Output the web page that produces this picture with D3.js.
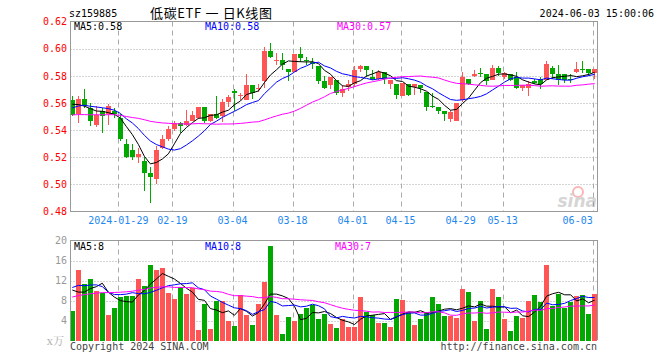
<!DOCTYPE html>
<html><head><meta charset="utf-8">
<script src="https://cdn.jsdelivr.net/npm/d3@7"></script>
<style>body{margin:0;background:#fff}svg{display:block}</style>
</head><body><svg id="c" width="660" height="360"></svg>
<script>
const dates = [
"2024-01-17","2024-01-18","2024-01-19","2024-01-22","2024-01-23","2024-01-24","2024-01-25","2024-01-26","2024-01-29","2024-01-30","2024-01-31",
"2024-02-01","2024-02-02","2024-02-05","2024-02-06","2024-02-07","2024-02-08","2024-02-19","2024-02-20","2024-02-21","2024-02-22","2024-02-23","2024-02-26","2024-02-27","2024-02-28","2024-02-29",
"2024-03-01","2024-03-04","2024-03-05","2024-03-06","2024-03-07","2024-03-08","2024-03-11","2024-03-12","2024-03-13","2024-03-14","2024-03-15","2024-03-18","2024-03-19","2024-03-20","2024-03-21","2024-03-22","2024-03-25","2024-03-26","2024-03-27","2024-03-28","2024-03-29",
"2024-04-01","2024-04-02","2024-04-03","2024-04-08","2024-04-09","2024-04-10","2024-04-11","2024-04-12","2024-04-15","2024-04-16","2024-04-17","2024-04-18","2024-04-19","2024-04-22","2024-04-23","2024-04-24","2024-04-25","2024-04-26","2024-04-29","2024-04-30",
"2024-05-06","2024-05-07","2024-05-08","2024-05-09","2024-05-10","2024-05-13","2024-05-14","2024-05-15","2024-05-16","2024-05-17","2024-05-20","2024-05-21","2024-05-22","2024-05-23","2024-05-24","2024-05-27","2024-05-28","2024-05-29","2024-05-30","2024-05-31",
"2024-06-03"];
const open = [.562,.552,.563,.556,.544,.554,.552,.554,.549,.530, .525,.520,.517,.508,.504,.527,.533,.541,.545,.544, .547,.549,.557,.547,.552,.550,.561,.569,.565,.562, .573,.570,.576,.598,.591,.592,.585,.583,.596,.592, .590,.587,.576,.573,.577,.567,.572,.574,.585,.587, .579,.578,.583,.574,.574,.565,.574,.572,.573,.568, .558,.557,.554,.548,.547,.562,.578,.580,.582,.581, .577,.586,.579,.581,.579,.571,.571,.576,.578,.577, .586,.581,.581,.578,.583,.585,.585,.582];
const high = [.565,.565,.570,.560,.558,.556,.559,.556,.552,.533, .530,.527,.520,.513,.528,.536,.543,.547,.546,.555, .554,.557,.557,.552,.565,.563,.566,.570,.567,.581, .573,.574,.601,.604,.597,.597,.585,.596,.601,.594, .593,.587,.580,.579,.577,.573,.577,.587,.588,.587, .584,.584,.583,.577,.574,.575,.574,.574,.573,.568, .567,.557,.554,.555,.560,.583,.578,.584,.586,.581, .588,.587,.583,.581,.583,.573,.576,.578,.579,.591, .587,.588,.581,.581,.590,.591,.585,.585];
const low = [.550,.545,.556,.543,.542,.538,.544,.549,.532,.519, .518,.516,.495,.486,.500,.526,.532,.539,.538,.543, .547,.548,.545,.546,.548,.546,.557,.554,.562,.562, .563,.568,.571,.593,.588,.584,.576,.583,.590,.588, .585,.574,.570,.570,.566,.564,.569,.572,.583,.579, .577,.577,.574,.570,.563,.565,.565,.566,.567,.554, .556,.552,.547,.546,.547,.561,.573,.579,.579,.573, .577,.580,.578,.576,.570,.569,.565,.574,.570,.577, .578,.573,.575,.575,.582,.582,.580,.578];
const close = [.551,.563,.558,.547,.551,.550,.558,.552,.533,.520, .520,.522,.508,.505,.525,.533,.541,.545,.543,.547, .551,.557,.547,.552,.549,.561,.564,.567,.566,.573, .567,.571,.598,.594,.592,.588,.583,.596,.593,.591, .589,.576,.571,.579,.567,.570,.574,.584,.587,.584, .578,.583,.578,.577,.566,.575,.566,.574,.571,.557, .557,.554,.552,.553,.560,.579,.574,.581,.581,.576, .586,.582,.582,.577,.571,.573,.574,.575,.574,.589, .581,.577,.577,.577,.585,.584,.582,.585];
const volume = [6.0,14.2,11.4,12.3,9.9,9.5,5.2,6.6,8.7,8.9, 9.0,12.3,11.0,15.1,14.1,14.5,9.5,8.3,10.7,9.3, 10.6,2.2,7.4,2.4,7.9,7.9,4.0,3.0,9.1,5.2, 3.2,7.4,11.7,18.9,5.2,1.4,4.8,4.0,5.4,6.6, 7.2,4.4,5.4,3.4,2.6,4.4,2.8,2.8,8.7,5.8, 5.2,3.6,3.6,2.8,8.3,8.1,5.8,3.2,4.4,5.8, 8.7,7.4,5.0,5.0,4.6,10.3,9.7,4.0,7.9,2.4, 10.3,8.7,4.4,2.0,5.0,4.6,7.9,9.1,7.7,15.1, 7.0,9.3,6.6,7.7,8.9,9.1,5.4,9.3];
// 29 sessions before the window (estimated), needed for the moving averages
const prevClose = [.556,.558,.552,.549,.551,.556,.553,.547,.545,.543,.540,.538,.541,.545,.548,.550,.552,.549,.547,.551,.549,.552,.555,.556,.556,.564,.564,.556,.560];
const prevVolume = [6,5.5,7,6,6.5,5,6,7,6.5,5.5,6,7,6,10,11.5,9.5,12,10.5,11,10.5,10,12,11,9.5,13,16.3,11.4,8.8,8.0];
const priceTicks = [0.62,0.60,0.58,0.56,0.54,0.52,0.50,0.48];
const priceGrid = [0.60,0.58,0.56,0.54,0.52,0.50];
const volumeTicks = [20,16,12,8,4];
const volumeGrid = [16,12,8,4];
const tickDates = ["2024-01-29","2024-02-19","2024-03-04","2024-03-18","2024-04-01","2024-04-15","2024-04-29","2024-05-13","2024-06-03"];
const tickLabels = ["2024-01-29","02-19","03-04","03-18","04-01","04-15","04-29","05-13","06-03"];
const maPeriods = [5,10,30];
const maColors = ["#000000","#0000ff","#ff00ff"];

const MONO = "'DejaVu Sans Mono','Liberation Mono',monospace";
const RED = "#ff5555", GREEN = "#00a800", BORDER = "#999";
const L = 70.5, R = 597.5, T1 = 21.5, B1 = 211.5, T2 = 240.5, B2 = 340.5;

const svg = d3.select("#c");
const x = d3.scaleBand().domain(dates).range([69.3, 597.7]).padding(0);
const cx = d => x(d) + x.bandwidth() / 2;
const y = d3.scaleLinear().domain([0.48, 0.62]).range([211.3, 21.6]);
const yv = d3.scaleLinear().domain([0, 20]).range([340.5, 240.5]);
const gx = d => Math.round(x(d) + 1.1) + 0.5;

function movingAvg(prev, vals, n) {
  const full = prev.concat(vals), off = prev.length;
  return vals.map((_, i) => d3.mean(full.slice(i + off - n + 1, i + off + 1)));
}
const up = i => close[i] >= open[i];

// ---------- grids ----------
function grid(top, bottom, yScale, vals) {
  const g = svg.append("g");
  g.selectAll(".h").data(vals).join("line")
    .attr("x1", L).attr("x2", R)
    .attr("y1", d => Math.round(yScale(d)) + 0.5).attr("y2", d => Math.round(yScale(d)) + 0.5)
    .attr("stroke", "#aaa").attr("stroke-dasharray", "1,2");
  g.selectAll(".v").data(tickDates).join("line")
    .attr("x1", gx).attr("x2", gx).attr("y1", top).attr("y2", bottom)
    .attr("stroke", "#aaa").attr("stroke-width", 1).attr("stroke-dasharray", "5,4");
}
grid(T1, B1, y, priceGrid);
grid(T2, B2, yv, volumeGrid);

// ---------- candles ----------
const cg = svg.append("g").attr("shape-rendering", "crispEdges");
const idx = d3.range(dates.length);
cg.selectAll(".wick").data(idx).join("line")
  .attr("x1", i => Math.floor(cx(dates[i])) + 0.5).attr("x2", i => Math.floor(cx(dates[i])) + 0.5)
  .attr("y1", i => y(high[i])).attr("y2", i => y(low[i]))
  .attr("stroke", i => up(i) ? RED : GREEN);
cg.selectAll(".body").data(idx).join("rect")
  .attr("x", i => Math.floor(cx(dates[i])) - 2)
  .attr("width", 5)
  .attr("y", i => y(Math.max(open[i], close[i])))
  .attr("height", i => Math.max(1, Math.abs(y(open[i]) - y(close[i]))))
  .attr("fill", i => up(i) ? RED : GREEN);

// ---------- volume bars ----------
svg.append("g").attr("shape-rendering", "crispEdges")
  .selectAll("rect").data(idx).join("rect")
  .attr("x", i => Math.floor(cx(dates[i])) - 2)
  .attr("width", 5)
  .attr("y", i => yv(volume[i]))
  .attr("height", i => yv(0) - yv(volume[i]))
  .attr("fill", i => up(i) ? RED : GREEN);

// ---------- MA lines ----------
const priceMA = maPeriods.map(n => movingAvg(prevClose, close, n));
const volMA = maPeriods.map(n => movingAvg(prevVolume, volume, n));
maPeriods.forEach((n, k) => {
  svg.append("path").datum(priceMA[k])
    .attr("d", d3.line().x((v, i) => cx(dates[i])).y(v => y(v)))
    .attr("fill", "none").attr("stroke", maColors[k]).attr("stroke-width", 1);
  svg.append("path").datum(volMA[k])
    .attr("d", d3.line().x((v, i) => cx(dates[i])).y(v => yv(v)))
    .attr("fill", "none").attr("stroke", maColors[k]).attr("stroke-width", 1);
});

// ---------- borders ----------
const bg = svg.append("g").attr("fill", "none").attr("stroke", BORDER).attr("stroke-width", 1).attr("shape-rendering", "crispEdges");
bg.append("path").attr("d", `M${L},${B1}V${T1}H${R}V${B1}H${L}`);
bg.append("path").attr("d", `M${L},${B2}V${T2}H${R}V${B2 - 1}`);

// ---------- axes ----------
const ya = svg.append("g").attr("transform", `translate(${L - 0.5},0)`)
  .call(d3.axisLeft(y).tickValues(priceTicks).tickFormat(d3.format(".2f")).tickSize(0).tickPadding(3));
ya.select(".domain").remove();
ya.selectAll("text").attr("fill", "#ff0000").style("font", `10px ${MONO}`);

const va = svg.append("g").attr("transform", `translate(${L - 0.5},0)`)
  .call(d3.axisLeft(yv).tickValues(volumeTicks).tickFormat(d3.format("d")).tickSize(0).tickPadding(3));
va.select(".domain").remove();
va.selectAll("text").attr("fill", "#999").style("font", `10px ${MONO}`);

const xa = svg.append("g").attr("transform", `translate(-2,${B1})`)
  .call(d3.axisBottom(x).tickValues(tickDates).tickFormat((d, i) => tickLabels[i]).tickSize(0).tickPadding(5));
xa.select(".domain").remove();
xa.selectAll("text").attr("fill", "#1e88f0").style("font", `10px ${MONO}`)
  .each(function (d) { if (cx(d) + 16 > R) d3.select(this).attr("text-anchor", "end").attr("x", 0); });

// ---------- texts ----------
const t = (tx, ty, s, col, anchor, font) => svg.append("text").attr("x", tx).attr("y", ty)
  .attr("fill", col).attr("text-anchor", anchor || "start").style("font", font || `10px ${MONO}`).text(s);
t(69, 17, "sz159885", "#000");
t(150, 18, "低碳ETF 一 日K线图", "#000", "start", "13px 'Noto Sans CJK SC',sans-serif")
  .attr("textLength", 122).attr("lengthAdjust", "spacing");
t(654, 17, "2024-06-03 15:00:06", "#000", "end");

const last = dates.length - 1;
t(74, 30, "MA5:" + priceMA[0][last].toFixed(2), maColors[0]);
t(205, 30, "MA10:" + priceMA[1][last].toFixed(2), maColors[1]);
t(337, 30, "MA30:" + priceMA[2][last].toFixed(2), maColors[2]);
t(74, 250, "MA5:" + Math.floor(volMA[0][last]), maColors[0]);
t(205, 250, "MA10:" + Math.floor(volMA[1][last]), maColors[1]);
t(335, 250, "MA30:" + Math.floor(volMA[2][last]), maColors[2]);

t(64, 345, "x万", "#aaa", "end", "11px 'Noto Serif CJK SC','Noto Sans CJK SC',serif");
t(70, 350, "Copyright 2024 SINA.COM", "#444");
t(597, 350, "http://finance.sina.com.cn", "#444", "end");

// sina watermark
const wm = svg.append("g").attr("opacity", 0.35);
wm.append("circle").attr("cx", 578).attr("cy", 192).attr("r", 5).attr("fill", "none").attr("stroke", "#e33").attr("stroke-width", 2);
wm.append("text").attr("x", 597).attr("y", 207).attr("text-anchor", "end").attr("fill", "#888")
  .style("font", "italic bold 17px 'DejaVu Sans',sans-serif").text("sina");
</script></body></html>
